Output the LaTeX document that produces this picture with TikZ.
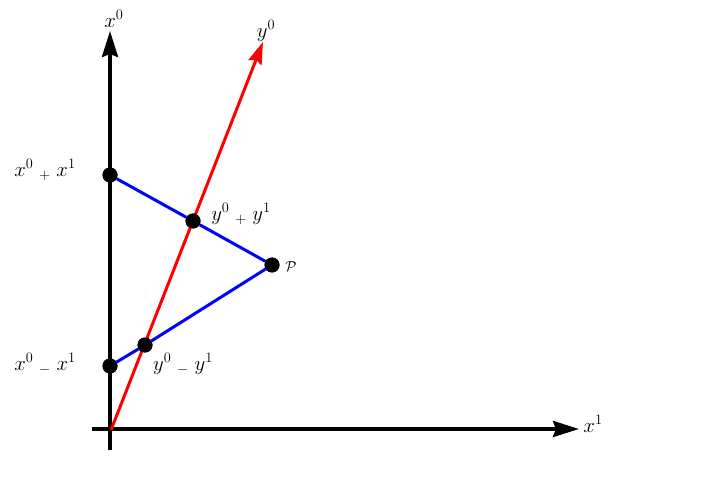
\documentclass[tikz,border=0pt]{standalone}
\usetikzlibrary{arrows.meta}
\begin{document}
\begin{tikzpicture}[x=1pt,y=-1pt,
  axis/.style={line width=3.6pt,-{Stealth[length=26pt,width=16pt,inset=3pt]}},
  redaxis/.style={line width=3pt,red,-{Stealth[length=22pt,width=14pt,inset=3pt]}},
  blueline/.style={line width=3pt,blue},
  dot/.style={circle,fill=black,inner sep=0pt,minimum size=15pt},
  lab/.style={font=\huge,inner sep=1pt}]
\useasboundingbox (0,0) rectangle (728,486);
\coordinate (vb) at (110,450);
\coordinate (vt) at (110,31);
\coordinate (hl) at (92,429);
\coordinate (hr) at (579,429);
\coordinate (o) at (111,430);
\coordinate (rt) at (263,42);
\node[dot] (a) at (110,175) {};
\node[dot] (b) at (193,221) {};
\node[dot] (p) at (272,265) {};
\node[dot] (c) at (145,345) {};
\node[dot] (d) at (110,366) {};
\draw[blueline] (a) -- (b) -- (p) -- (c) -- (d);
\draw[axis] (vb) -- (vt);
\draw[axis] (hl) -- (hr);
\draw[redaxis] (o) -- (rt);
\node[dot] at (a) {};
\node[dot] at (b) {};
\node[dot] at (p) {};
\node[dot] at (c) {};
\node[dot] at (d) {};
\node[lab] (lx0) at (114,19) {$x^0$};
\node[lab] (ly0) at (266,31) {$y^0$};
\node[lab] (lx1) at (593,424) {$x^1$};
\node[lab] (la) at (45,170) {$x^0\;{}_{+}\;x^1$};
\node[lab] (lb) at (241,214) {$y^0\;{}_{+}\;y^1$};
\node[lab,font=\Large] (lp) at (291,267) {$\mathcal{P}$};
\node[lab] (lc) at (183,364) {$y^0\;{}_{-}\;y^1$};
\node[lab] (ld) at (45,364) {$x^0\;{}_{-}\;x^1$};
\end{tikzpicture}
\end{document}
